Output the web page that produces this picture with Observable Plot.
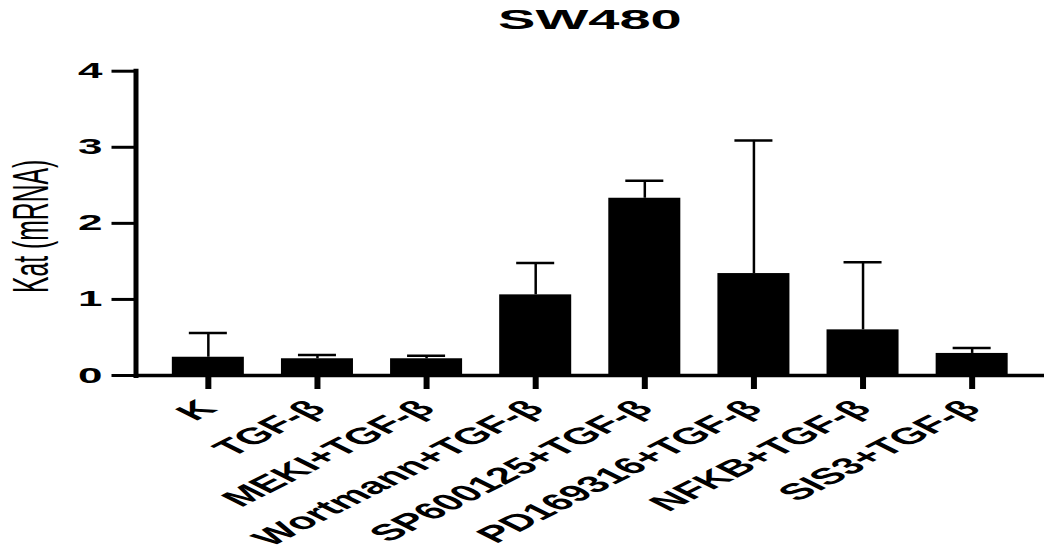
<!DOCTYPE html>
<html>
<head>
<meta charset="utf-8">
<script src="https://cdn.jsdelivr.net/npm/d3@7"></script>
<script src="https://cdn.jsdelivr.net/npm/@observablehq/plot@0.6"></script>
<style>
  html, body { margin: 0; padding: 0; background: white; }
  #wrap { width: 1044px; height: 552px; overflow: hidden; font-family: "Liberation Sans", Arial, sans-serif; }
  #title { height: 40px; line-height: 40px; padding-left: 135.5px; text-align: center; font-size: 28px; font-weight: bold; color: black; }
  #title span { display: inline-block; transform: scaleX(2); }
</style>
</head>
<body>
<div id="wrap">
  <div id="title"><span>SW480</span></div>
  <div id="chart"></div>
</div>
<script>
const categories = ["K", "TGF-β", "MEKI+TGF-β", "Wortmann+TGF-β", "SP600125+TGF-β", "PD169316+TGF-β", "NFKB+TGF-β", "SIS3+TGF-β"];
const means = [0.24, 0.22, 0.22, 1.06, 2.33, 1.34, 0.60, 0.29];
const sds = [0.32, 0.05, 0.04, 0.42, 0.23, 1.75, 0.89, 0.07];
const yTicks = [0, 1, 2, 3, 4];
const yLabel = "Kat (mRNA)";

const data = categories.map((c, i) => ({cat: c, mean: means[i], sd: sds[i]}));

const svg = Plot.plot({
  width: 1044,
  height: 512,
  marginLeft: 135.5,
  marginRight: 0,
  marginTop: 30.7,
  marginBottom: 177,
  style: {fontFamily: "'Liberation Sans', Arial, sans-serif", background: "white", color: "black"},
  x: {domain: categories, paddingInner: 0.34, paddingOuter: 0.333, round: false, axis: null},
  y: {domain: [0, 4], axis: null},
  marks: [
    Plot.barY(data, {x: "cat", y: "mean", fill: "black"}),
    Plot.ruleX(data, {x: "cat", y1: "mean", y2: d => d.mean + d.sd, stroke: "black", strokeWidth: 2.5}),
    Plot.tickY(data, {x: "cat", y: d => d.mean + d.sd, stroke: "black", strokeWidth: 2.5, insetLeft: 17, insetRight: 17}),
    Plot.frame({anchor: "left", stroke: "black", strokeWidth: 5}),
    Plot.frame({anchor: "bottom", stroke: "black", strokeWidth: 3.5}),
    Plot.axisX({tickSize: 14, tickPadding: 15, tickRotate: -45, fontSize: 23, fontWeight: "bold", strokeWidth: 6, label: null}),
    Plot.axisY({ticks: yTicks, tickFormat: "d", tickSize: 24, tickPadding: 9.5, fontSize: 22, fontWeight: "bold", strokeWidth: 3, label: null}),
    Plot.text([yLabel], {text: d => d, frameAnchor: "left", textAnchor: "middle", rotate: -90, dx: -103.5, dy: 3, fontSize: 24.7})
  ]
});

function stretchEl(t) {
  const tr = t.getAttribute("transform");
  if (tr && /^translate\(/.test(tr)) {
    t.setAttribute("transform", tr.replace(/^(translate\([^)]*\))/, "$1 scale(2,1)"));
  } else {
    const x = +t.getAttribute("x") || 0, y = +t.getAttribute("y") || 0;
    t.removeAttribute("x"); t.removeAttribute("y");
    t.setAttribute("transform", `translate(${x},${y}) scale(2,1)` + (tr ? " " + tr : ""));
  }
}
svg.querySelectorAll('g[aria-label="x-axis tick label"] text').forEach(stretchEl);
svg.querySelectorAll('g[aria-label="y-axis tick label"] text').forEach(stretchEl);
svg.querySelectorAll('text').forEach(t => { if (t.textContent === yLabel) stretchEl(t); });
svg.querySelectorAll('g[aria-label="x-axis tick label"], g[aria-label="y-axis tick label"]').forEach(g => g.setAttribute("font-weight", "bold"));

document.getElementById("chart").appendChild(svg);
</script>
</body>
</html>
